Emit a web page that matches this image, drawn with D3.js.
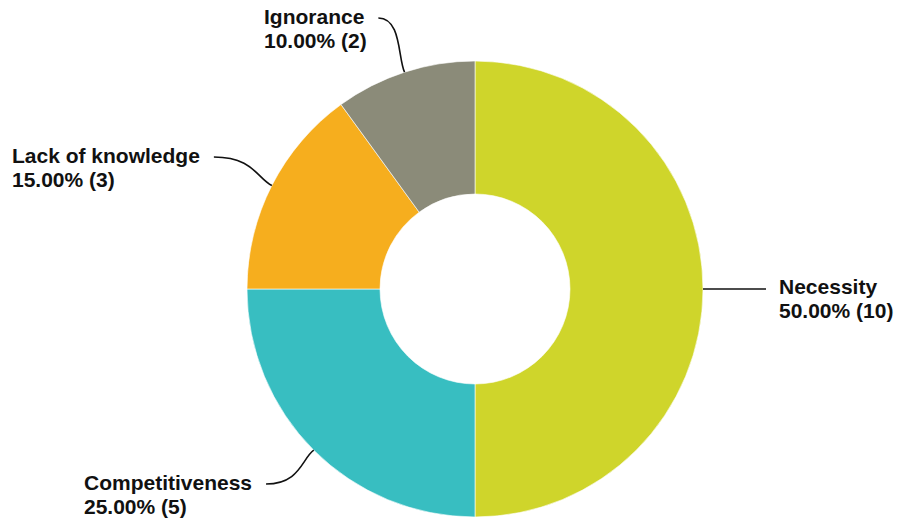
<!DOCTYPE html>
<html>
<head>
<meta charset="utf-8">
<script src="https://cdn.jsdelivr.net/npm/d3@7"></script>
<style>
  html, body { margin: 0; padding: 0; background: #ffffff; }
  svg { display: block; }
  text { font-family: "Liberation Sans", Arial, Helvetica, sans-serif; font-weight: bold; font-size: 21px; fill: #111; }
</style>
</head>
<body>
<svg id="chart" width="897" height="526"></svg>
<script>
const categories = ["Necessity", "Competitiveness", "Lack of knowledge", "Ignorance"];
const counts = [10, 5, 3, 2];
const colors = ["#CFD52B", "#38BEC1", "#F6AE1E", "#8B8B79"];
// label anchor positions (text start x, first baseline y) and side
const labelPos = [
  { x: 779, y: 294, side: "right" },
  { x: 84, y: 490, side: "left" },
  { x: 12, y: 163, side: "left" },
  { x: 264, y: 24, side: "left" }
];

const svg = d3.select("#chart");
const cx = 475, cy = 289, outerR = 228, innerR = 95;
const total = d3.sum(counts);
const data = categories.map((c, i) => ({ name: c, value: counts[i], color: colors[i], lab: labelPos[i] }));

const pie = d3.pie().value(d => d.value).sort(null);
const arc = d3.arc().innerRadius(innerR).outerRadius(outerR);
const arcs = pie(data);

const g = svg.append("g").attr("transform", `translate(${cx},${cy})`);
g.selectAll("path.slice").data(arcs).enter().append("path")
  .attr("class", "slice")
  .attr("d", arc)
  .attr("fill", d => d.data.color)
  .attr("stroke", "#ffffff")
  .attr("stroke-width", 0.6);

const fmt = d3.format(".2f");
const measure = svg.append("text").attr("visibility", "hidden");

arcs.forEach(a => {
  const mid = (a.startAngle + a.endAngle) / 2;
  const px = cx + outerR * Math.sin(mid);
  const py = cy - outerR * Math.cos(mid);
  const lab = a.data.lab;
  const line1 = a.data.name;
  const line2 = `${fmt(a.data.value / total * 100)}% (${a.data.value})`;

  const t = svg.append("text").attr("x", lab.x).attr("y", lab.y);
  t.append("tspan").attr("x", lab.x).attr("y", lab.y).text(line1);
  t.append("tspan").attr("x", lab.x).attr("y", lab.y + 24).text(line2);

  let path;
  if (lab.side === "right") {
    const sx = lab.x - 13, sy = lab.y - 5;
    path = `M${px},${py} C${px + 20},${py} ${sx - 20},${sy} ${sx},${sy}`;
  } else {
    measure.text(line1);
    const w = measure.node().getComputedTextLength();
    const sx = lab.x + w + 14;
    const sy = lab.y - 6;
    const dx = px - sx, dy = py - sy;
    path = `M${sx},${sy} C${sx + Math.abs(dx) * 0.5 + 10},${sy} ${px - dx * 0.25},${py - dy * 0.25} ${px},${py}`;
  }
  svg.append("path").attr("d", path).attr("fill", "none").attr("stroke", "#111").attr("stroke-width", 1.6);
});
measure.remove();
</script>
</body>
</html>
